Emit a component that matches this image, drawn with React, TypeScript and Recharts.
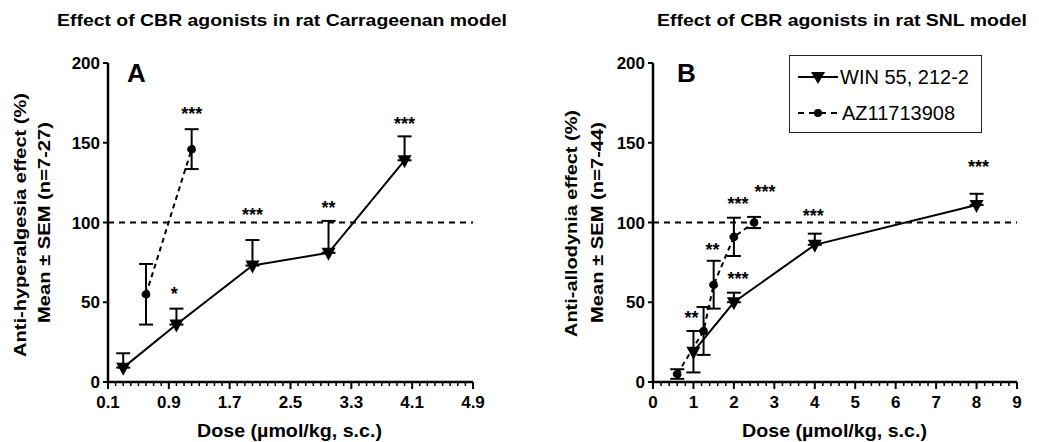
import React from 'react';
import {
  ComposedChart, Line, XAxis, YAxis, ErrorBar, ReferenceLine, Scatter, Legend,
} from 'recharts';

const FONT = '"Liberation Sans", Arial, Helvetica, sans-serif';

// ---------- Panel A (Carrageenan) ----------
const winDoseA = [0.3, 1, 2, 3, 4];
const winMeanA = [9, 36, 73, 81, 139];
const winSemUpA = [9, 10, 16, 20, 15];
const winSemDownA = [0, 0, 0, 0, 0];

const azDoseA = [0.6, 1.2];
const azMeanA = [55, 146];
const azSemA = [19, 12.5];

const starXA = [1.2, 0.97, 2.0, 3.0, 4.0];
const starYA = [171, 58, 108, 112, 165];
const starTextA = ['***', '*', '***', '**', '***'];

const xMajorA = [0.1, 0.9, 1.7, 2.5, 3.3, 4.1, 4.9];

// ---------- Panel B (SNL) ----------
const winDoseB = [1, 2, 4, 8];
const winMeanB = [19, 50, 86, 111];
const winSemUpB = [13, 6, 7, 7];
const winSemDownB = [13, 0, 0, 0];

const azDoseB = [0.6, 1.25, 1.5, 2, 2.5];
const azMeanB = [5, 32, 61, 91, 100];
const azSemB = [3, 15, 15, 12, 3.5];

const starXB = [0.95, 1.47, 2.1, 2.77, 2.1, 3.96, 8.05];
const starYB = [43, 86, 115, 122.5, 67.5, 107, 138];
const starTextB = ['**', '**', '***', '***', '***', '***', '***'];

const xMajorB = [0, 1, 2, 3, 4, 5, 6, 7, 8, 9];

const yTicks = [0, 50, 100, 150, 200];

// ---------- tables built from arrays ----------
const winA = winDoseA.map((x, i) => ({ x, y: winMeanA[i], err: [winSemDownA[i], winSemUpA[i]] }));
const azA = azDoseA.map((x, i) => ({ x, y: azMeanA[i], err: [azSemA[i], azSemA[i]] }));
const starsA = starXA.map((x, i) => ({ x, y: starYA[i], label: starTextA[i] }));
const winB = winDoseB.map((x, i) => ({ x, y: winMeanB[i], err: [winSemDownB[i], winSemUpB[i]] }));
const azB = azDoseB.map((x, i) => ({ x, y: azMeanB[i], err: [azSemB[i], azSemB[i]] }));
const starsB = starXB.map((x, i) => ({ x, y: starYB[i], label: starTextB[i] }));

const minorTicks = (from: number, to: number, step: number) => {
  const n = Math.round((to - from) / step);
  return Array.from({ length: n + 1 }, (_, i) => Math.round((from + i * step) * 100) / 100);
};
const ticksA = minorTicks(0.1, 4.9, 0.1);
const ticksB = minorTicks(0, 9, 0.2);

const makeXTick = (majors: number[], fmt: (v: number) => string) => (props: any) => {
  const { x, y, payload } = props;
  const v = payload.value;
  const isMajor = majors.some((m) => Math.abs(m - v) < 1e-6);
  return (
    <g>
      <line x1={x} x2={x} y1={y} y2={y + (isMajor ? 7 : 4)} stroke="#000" strokeWidth={isMajor ? 2 : 1.5} />
      {isMajor && (
        <text x={x} y={y + 26} textAnchor="middle" fontSize={17} fontWeight="bold" fontFamily={FONT} fill="#000">
          {fmt(v)}
        </text>
      )}
    </g>
  );
};

const TriDown = (props: any) => {
  const { cx, cy, index } = props;
  if (cx == null || cy == null) return <g key={index} />;
  return <path key={index} d={`M${cx - 7},${cy - 5} L${cx + 7},${cy - 5} L${cx},${cy + 8} Z`} fill="#000" />;
};

const StarText = (props: any) => {
  const { cx, cy, payload } = props;
  if (cx == null || cy == null) return <g />;
  return (
    <text x={cx} y={cy + 11} textAnchor="middle" fontSize={18} fontWeight="bold" fontFamily={FONT} fill="#000">
      {payload.label}
    </text>
  );
};

const LegendBox = () => (
  <div style={{ width: 193, height: 78, border: '1px solid #222', boxSizing: 'border-box', background: '#fff' }}>
    <svg width={191} height={76} style={{ display: 'block' }}>
      <line x1={8} x2={48} y1={21} y2={21} stroke="#000" strokeWidth={2} />
      <path d="M21,16 L35,16 L28,28 Z" fill="#000" />
      <text x={50} y={28} fontSize={20} fontFamily={FONT} fill="#000">WIN 55, 212-2</text>
      <line x1={8} x2={48} y1={57} y2={57} stroke="#000" strokeWidth={2} strokeDasharray="6 5" />
      <circle cx={28} cy={57} r={4} fill="#000" />
      <text x={52} y={64} fontSize={20} fontFamily={FONT} fill="#000">AZ11713908</text>
    </svg>
  </div>
);

const yAxisProps = {
  type: 'number' as const,
  domain: [0, 200],
  ticks: yTicks,
  interval: 0 as const,
  width: 40,
  tickSize: 5,
  tickMargin: 3,
  axisLine: { stroke: '#000', strokeWidth: 2.5 },
  tickLine: { stroke: '#000', strokeWidth: 2 },
  tick: { fill: '#000', fontSize: 17, fontWeight: 'bold', fontFamily: FONT },
};

const ChartA = () => (
  <ComposedChart width={520} height={442} margin={{ top: 63, right: 47, bottom: 30, left: 68 }}>
    <XAxis
      dataKey="x"
      type="number"
      domain={[0.1, 4.9]}
      ticks={ticksA}
      interval={0}
      height={30}
      tickSize={0}
      tickMargin={0}
      tickLine={false}
      axisLine={{ stroke: '#000', strokeWidth: 2.5 }}
      tick={makeXTick(xMajorA, (v) => v.toFixed(1))}
      allowDataOverflow
    />
    <YAxis {...yAxisProps} />
    <ReferenceLine y={100} stroke="#000" strokeWidth={2} strokeDasharray="6 5" />
    <Line data={winA} dataKey="y" stroke="#000" strokeWidth={2} dot={TriDown} isAnimationActive={false} legendType="none">
      <ErrorBar dataKey="err" direction="y" width={7} stroke="#000" strokeWidth={2} />
    </Line>
    <Line data={azA} dataKey="y" stroke="#000" strokeWidth={2} strokeDasharray="5 4" dot={{ r: 4, fill: '#000', stroke: '#000', strokeWidth: 1 }} isAnimationActive={false} legendType="none">
      <ErrorBar dataKey="err" direction="y" width={7} stroke="#000" strokeWidth={2} />
    </Line>
    <Scatter data={starsA} dataKey="y" shape={StarText} isAnimationActive={false} legendType="none" />
  </ComposedChart>
);

const ChartB = () => (
  <ComposedChart width={519} height={442} margin={{ top: 63, right: 22, bottom: 30, left: 93 }}>
    <XAxis
      dataKey="x"
      type="number"
      domain={[0, 9]}
      ticks={ticksB}
      interval={0}
      height={30}
      tickSize={0}
      tickMargin={0}
      tickLine={false}
      axisLine={{ stroke: '#000', strokeWidth: 2.5 }}
      tick={makeXTick(xMajorB, (v) => String(v))}
      allowDataOverflow
    />
    <YAxis {...yAxisProps} />
    <ReferenceLine y={100} stroke="#000" strokeWidth={2} strokeDasharray="6 5" />
    <Line data={winB} dataKey="y" stroke="#000" strokeWidth={2} dot={TriDown} isAnimationActive={false} legendType="none">
      <ErrorBar dataKey="err" direction="y" width={7} stroke="#000" strokeWidth={2} />
    </Line>
    <Line data={azB} dataKey="y" stroke="#000" strokeWidth={2} strokeDasharray="5 4" dot={{ r: 4, fill: '#000', stroke: '#000', strokeWidth: 1 }} isAnimationActive={false} legendType="none">
      <ErrorBar dataKey="err" direction="y" width={7} stroke="#000" strokeWidth={2} />
    </Line>
    <Scatter data={starsB} dataKey="y" shape={StarText} isAnimationActive={false} legendType="none" />
    <Legend
      content={LegendBox}
      layout="horizontal"
      verticalAlign="middle"
      align="center"
      wrapperStyle={{ position: 'absolute', left: 269, top: 55, width: 193, height: 78 }}
    />
  </ComposedChart>
);

export default function App() {
  const t = { fontFamily: FONT, fontWeight: 'bold' as const, fill: '#000', lengthAdjust: 'spacingAndGlyphs' as const };
  return (
    <div style={{ position: 'fixed', left: 0, top: 0, width: 1039, height: 442, background: '#fff', overflow: 'hidden' }}>
      <div style={{ position: 'absolute', left: 0, top: 0 }}>
        <ChartA />
      </div>
      <div style={{ position: 'absolute', left: 520, top: 0 }}>
        <ChartB />
      </div>
      <svg width={1039} height={442} style={{ position: 'absolute', left: 0, top: 0, pointerEvents: 'none' }}>
        <text x={57} y={26} fontSize={17} textLength={450} {...t}>Effect of CBR agonists in rat Carrageenan model</text>
        <text x={657} y={26} fontSize={17} textLength={370} {...t}>Effect of CBR agonists in rat SNL model</text>
        <text x={127} y={82} fontSize={26} fontFamily={FONT} fontWeight="bold" fill="#000">A</text>
        <text x={677} y={82} fontSize={26} fontFamily={FONT} fontWeight="bold" fill="#000">B</text>
        <text transform="translate(26,357) rotate(-90)" fontSize={17} textLength={264} {...t}>Anti-hyperalgesia effect (%)</text>
        <text transform="translate(50,323) rotate(-90)" fontSize={17} textLength={201} {...t}>Mean ± SEM (n=7-27)</text>
        <text transform="translate(577,337) rotate(-90)" fontSize={17} textLength={227} {...t}>Anti-allodynia effect (%)</text>
        <text transform="translate(603,323) rotate(-90)" fontSize={17} textLength={201} {...t}>Mean ± SEM (n=7-44)</text>
        <text x={197} y={437} fontSize={18} textLength={185} {...t}>Dose (µmol/kg, s.c.)</text>
        <text x={742} y={437} fontSize={18} textLength={185} {...t}>Dose (µmol/kg, s.c.)</text>
      </svg>
    </div>
  );
}
